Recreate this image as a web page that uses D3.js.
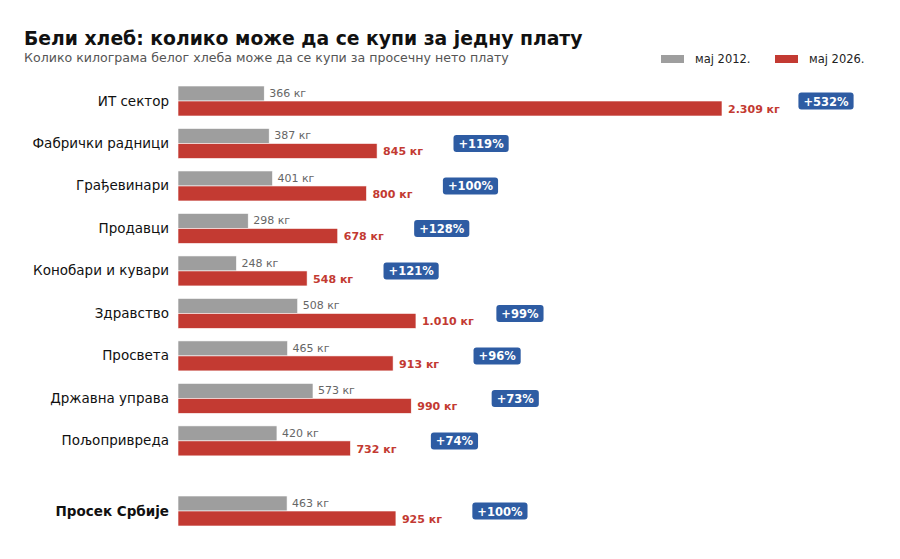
<!DOCTYPE html>
<html><head><meta charset="utf-8">
<script src="https://cdn.jsdelivr.net/npm/d3@7"></script>
<style>body{margin:0;background:#fff}svg{font-family:"DejaVu Sans",sans-serif}</style>
</head><body>
<svg id="c" width="900" height="559"></svg>
<script>
const categories = ["ИТ сектор","Фабрички радници","Грађевинари","Продавци","Конобари и кувари","Здравство","Просвета","Државна управа","Пољопривреда","Просек Србије"];
const positions = [0,1,2,3,4,5,6,7,8,9.65];
const values2012 = [366,387,401,298,248,508,465,573,420,463];
const values2026 = [2309,845,800,678,548,1010,913,990,732,925];
const changes = ["+532%","+119%","+100%","+128%","+121%","+99%","+96%","+73%","+74%","+100%"];
const legendLabels = ["мај 2012.","мај 2026."];

const svg = d3.select("#c");
const x = d3.scaleLinear().domain([0,2309]).range([178,722]);
const y = d3.scaleLinear().domain([0,9.65]).range([101,511]);
const bh = 15;
const grey = "#9e9e9e", red = "#c33a32", blue = "#2e5ca3";
const fmt = v => d3.format(",")(v).replace(/,/g,".");

svg.append("text").attr("x",24).attr("y",45).attr("font-size",18.8).attr("font-weight","bold").attr("fill","#111")
  .text("Бели хлеб: колико може да се купи за једну плату");
svg.append("text").attr("x",24).attr("y",62).attr("font-size",12.6).attr("fill","#555")
  .text("Колико килограма белог хлеба може да се купи за просечну нето плату");

// legend
const lg = [{c:grey,t:legendLabels[0],x:661},{c:red,t:legendLabels[1],x:775}];
lg.forEach(d=>{
  svg.append("rect").attr("x",d.x).attr("y",55).attr("width",23).attr("height",8).attr("fill",d.c);
  svg.append("text").attr("x",d.x+34).attr("y",63).attr("font-size",11.5).attr("fill","#222").text(d.t);
});

const g = svg.append("g");
categories.forEach((cat,i)=>{
  const yc = y(positions[i]);
  g.append("text").attr("x",169).attr("y",yc+4.5).attr("text-anchor","end").attr("font-size",13.5)
    .attr("font-weight", i===categories.length-1?"bold":"normal").attr("fill","#111").text(cat);
  g.append("rect").attr("x",x(0)).attr("y",yc-bh).attr("width",x(values2012[i])-x(0)).attr("height",bh)
    .attr("fill",grey).attr("stroke","#fff").attr("stroke-width",0.6);
  g.append("rect").attr("x",x(0)).attr("y",yc).attr("width",x(values2026[i])-x(0)).attr("height",bh)
    .attr("fill",red).attr("stroke","#fff").attr("stroke-width",0.6);
  g.append("text").attr("x",x(values2012[i])+5).attr("y",yc-4).attr("font-size",11).attr("fill","#666")
    .text(fmt(values2012[i])+" кг");
  g.append("text").attr("x",x(values2026[i])+6).attr("y",yc+12).attr("font-size",11).attr("font-weight","bold").attr("fill",red)
    .text(fmt(values2026[i])+" кг");
  const bx = x(values2026[i]) + 104;
  const t = g.append("text").attr("x",bx).attr("y",yc+4.5).attr("text-anchor","middle").attr("font-size",11.5)
    .attr("font-weight","bold").attr("fill","#fff").text(changes[i]);
  const w = t.node().getComputedTextLength()+10;
  g.insert("rect","text:last-child").attr("x",bx-w/2).attr("y",yc-8.5).attr("width",w).attr("height",17)
    .attr("rx",3).attr("fill",blue);
  t.raise();
});
</script>
</body></html>
